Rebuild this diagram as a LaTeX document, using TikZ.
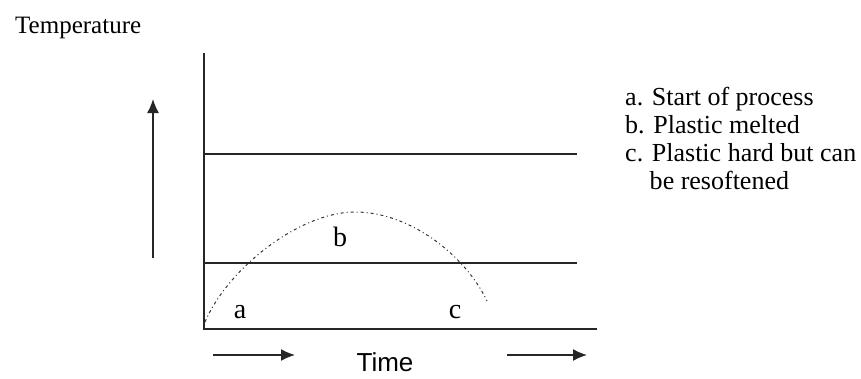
\documentclass[tikz,border=0pt]{standalone}
\usepackage{fontspec}
\setmainfont{Liberation Serif}
\newfontfamily\timefont{Liberation Sans}
\usepackage{tikz}
\usetikzlibrary{arrows.meta}

\begin{document}
\begin{tikzpicture}[x=1pt,y=-1pt,
  axisline/.style={line width=1.5pt,black!85},
  tipline/.style={axisline,arrows={-Latex[length=14pt,width=12pt]}},
  keytext/.style={inner sep=0pt,anchor=base west,font=\fontsize{26}{28}\selectfont},
  curvelabel/.style={inner sep=0pt,font=\fontsize{28}{30}\selectfont}]
\useasboundingbox (0,0) rectangle (861,378);
\node[inner sep=0pt,anchor=base west,font=\fontsize{25}{30}\selectfont] (temp) at (15,33) {Temperature};
\coordinate (ytop) at (204,53);
\coordinate (orig) at (204,329);
\coordinate (xend) at (597,329);
\coordinate (hiL) at (204,154);
\coordinate (hiR) at (577,154);
\coordinate (midL) at (204,263);
\coordinate (midR) at (577,263);
\draw[axisline] (ytop) -- (orig) -- (xend);
\draw[axisline] (hiL) -- (hiR);
\draw[axisline] (midL) -- (midR);
\coordinate (upS) at (153,258);
\coordinate (upE) at (153,99);
\draw[tipline] (upS) -- (upE);
\coordinate (t1S) at (213,355);
\coordinate (t1E) at (295,355);
\coordinate (t2S) at (507,355);
\coordinate (t2E) at (587,355);
\draw[tipline] (t1S) -- (t1E);
\draw[tipline] (t2S) -- (t2E);
\node[inner sep=0pt,anchor=base,font=\timefont\fontsize{26}{28}\selectfont] (time) at (385,371) {Time};
\coordinate (cstart) at (205,322);
\coordinate (cpeak) at (355,212);
\coordinate (cend) at (487,301);
\draw[line width=1pt,black!80,dash pattern=on 3pt off 3pt on 1pt off 3pt]
  (cstart) .. controls (228,268) and (300,212) .. (cpeak)
  .. controls (410,212) and (465,255) .. (cend);
\node[curvelabel] (la) at (240,312) {a};
\node[curvelabel] (lb) at (340,237) {b};
\node[curvelabel] (lc) at (455,312) {c};
\node[keytext] (keya) at (625,105) {a. Start of process};
\node[keytext] (keyb) at (625,133) {b. Plastic melted};
\node[keytext] (keyc) at (625,161) {c. Plastic hard but can};
\node[keytext] (keyd) at (625,189) {\phantom{c.\ }be resoftened};
\end{tikzpicture}
\end{document}
